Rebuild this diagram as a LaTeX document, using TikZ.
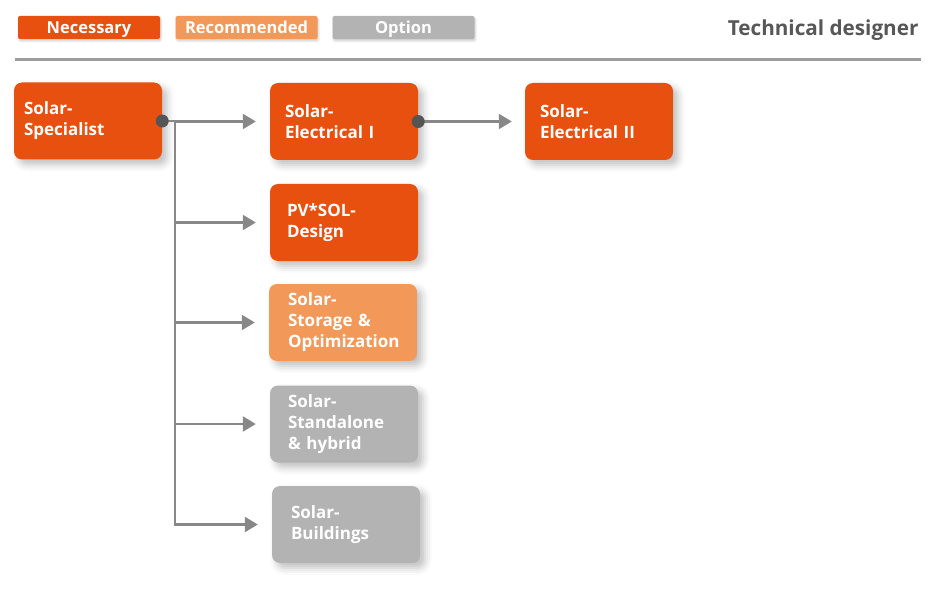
\documentclass[tikz,border=0pt]{standalone}
\usepackage{fontspec}
\setmainfont{Open Sans}
\usetikzlibrary{arrows.meta,calc,shadows.blur}
\usetikzlibrary{positioning}

\definecolor{necessary}{HTML}{E8500F}
\definecolor{recommended}{HTML}{F29858}
\definecolor{option}{HTML}{B3B3B3}
\definecolor{linkgray}{HTML}{888888}
\definecolor{dotgray}{HTML}{555555}
\definecolor{rulegray}{HTML}{9D9D9D}
\definecolor{titlegray}{HTML}{575757}

\begin{document}
\begin{tikzpicture}[x=1pt,y=-1pt,>={Triangle[length=13pt,width=15pt]},
  course/.style={rounded corners=8pt,minimum width=148pt,minimum height=77pt,
    text width=118pt,inner xsep=15pt,align=left,text=white,
    font=\bfseries\fontsize{17}{21}\selectfont,
    blur shadow={shadow xshift=5pt,shadow yshift=-5pt,shadow blur radius=7pt,shadow opacity=25}},
  legend/.style={rounded corners=2pt,minimum width=142pt,minimum height=23pt,inner sep=0pt,
    text height=14pt,text depth=2pt,text=white,font=\bfseries\fontsize{16.5}{19}\selectfont,
    blur shadow={shadow xshift=1pt,shadow yshift=-2pt,shadow blur radius=2pt,shadow opacity=20}},
  link/.style={linkgray,line width=2.3pt}]
  \useasboundingbox (0,0) rectangle (947,604);

  % legend and title
  \node[legend,fill=necessary] (necessary) at (89,27.5) {Necessary};
  \node[legend,fill=recommended] (recommended) at (246.5,27.5) {Recommended};
  \node[legend,fill=option] (option) at (403.5,27.5) {Option};
  \node[anchor=east,text=titlegray,font=\bfseries\fontsize{20.7}{24}\selectfont] (title) at (922,30) {Technical designer};
  \draw[rulegray,line width=3pt] (15,60) -- (921,60);

  % courses
  \node[course,fill=necessary,inner xsep=10pt,text width=128pt] (spec) at (88,121) {Solar-\\Specialist};
  \node[course,fill=necessary] (elec1) at (344,121.5) {Solar-\\Electrical I};
  \node[course,fill=necessary] (elec2) at (599,121.5) {Solar-\\Electrical II};
  \node[course,fill=necessary,inner xsep=17pt,text width=114pt] (pvsol) at (344,222.5) {PV*SOL-\\Design};
  \node[course,fill=recommended,inner xsep=19pt,text width=110pt] (storage) at (343,322.5) {Solar-\\Storage \&\\Optimization};
  \node[course,fill=option,inner xsep=18pt,text width=112pt] (standalone) at (344,424) {Solar-\\Standalone\\\& hybrid};
  \node[course,fill=option,inner xsep=19pt,text width=110pt] (buildings) at (346,524.5) {Solar-\\Buildings};

  % connectors
  \coordinate (trunk) at ($(spec.east)+(13,0)$);
  \draw[link] (spec.east) -- (trunk);
  \foreach \n in {elec1,pvsol,storage,standalone,buildings}
    \draw[link,->,shorten >=14pt] (trunk) |- (\n.west);
  \draw[link,->,shorten >=13pt] (elec1.east) -- (elec2.west);
  \fill[dotgray] (spec.east) circle (6.5);
  \fill[dotgray] (elec1.east) circle (6.5);
\end{tikzpicture}
\end{document}
